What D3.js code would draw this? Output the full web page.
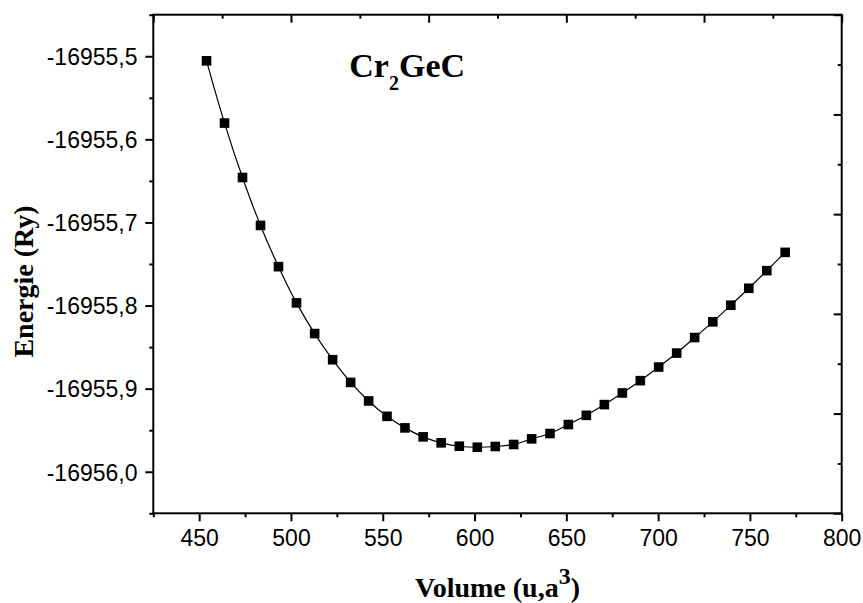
<!DOCTYPE html>
<html>
<head>
<meta charset="utf-8">
<script src="https://cdn.jsdelivr.net/npm/d3@7"></script>
<style>
  html, body { margin: 0; padding: 0; background: #fff; }
  svg { display: block; }
  .tick text { font-family: "Liberation Sans", Arial, sans-serif; font-size: 23px; fill: #000; }
  .ttl { font-family: "Liberation Serif", "Times New Roman", serif; font-weight: bold; fill: #000; }
</style>
</head>
<body>
<svg id="chart" width="863" height="603"></svg>
<script>
// ---- data ----
const volume = [454.0, 463.8, 473.6, 483.4, 493.2, 503.0, 512.9, 522.7, 532.5, 542.3,
                552.3, 562.1, 572.0, 581.8, 591.7, 601.5, 611.3, 621.3, 631.1, 641.1,
                651.1, 660.9, 670.7, 680.5, 690.3, 700.3, 710.1, 719.9, 729.8, 739.6,
                749.4, 759.2, 769.2];
const energy = [-16955.5055, -16955.5804, -16955.6459, -16955.7036, -16955.7532, -16955.7968,
                -16955.8337, -16955.8652, -16955.8925, -16955.9148, -16955.9333, -16955.9472,
                -16955.9580, -16955.9652, -16955.9693, -16955.9705, -16955.9696, -16955.9672,
                -16955.9604, -16955.9540, -16955.9432, -16955.9321, -16955.9192, -16955.9052,
                -16955.8904, -16955.8740, -16955.8572, -16955.8385, -16955.8196, -16955.7996,
                -16955.7792, -16955.7580, -16955.7360];

const xDomain = [425, 800];
const yDomain = [-16956.05, -16955.45];

const xTicks = [450, 500, 550, 600, 650, 700, 750, 800];
const xTickLabels = ["450", "500", "550", "600", "650", "700", "750", "800"];
const xMinorTicks = [425, 475, 525, 575, 625, 675, 725, 775];

const yTicks = [-16955.5, -16955.6, -16955.7, -16955.8, -16955.9, -16956.0];
const yTickLabels = ["-16955,5", "-16955,6", "-16955,7", "-16955,8", "-16955,9", "-16956,0"];
const yMinorTicks = [-16955.45, -16955.55, -16955.65, -16955.75, -16955.85, -16955.95, -16956.05];

const topTicks = [425, 500, 575, 650, 725, 800];
const topMinorTicks = [462.5, 537.5, 612.5, 687.5, 762.5];
const rightTicks = [-16955.45, -16955.57, -16955.69, -16955.81, -16955.93, -16956.05];
const rightMinorTicks = [-16955.51, -16955.63, -16955.75, -16955.87, -16955.99];

const chartTitle = "Cr";
const chartTitleSub = "2";
const chartTitleRest = "GeC";
const xTitle = "Volume (u,a";
const xTitleSup = "3";
const xTitleEnd = ")";
const yTitle = "Energie (Ry)";

// ---- layout ----
const L = 153.3, R = 841.7, T = 14.7, B = 513.3;
const svg = d3.select("#chart");

const x = d3.scaleLinear().domain(xDomain).range([L, R]);
const y = d3.scaleLinear().domain(yDomain).range([B, T]);

function styleAxis(g) {
  g.select(".domain").remove();
  g.selectAll(".tick line").attr("stroke", "#000").attr("stroke-width", 2);
}

// bottom axis
svg.append("g").attr("transform", `translate(0,${B})`)
  .call(d3.axisBottom(x).tickValues(xTicks).tickSize(8).tickFormat((d, i) => xTickLabels[i]))
  .call(styleAxis)
  .call(g => g.selectAll(".tick text").attr("y", 32.7).attr("dy", 0));
svg.append("g").attr("transform", `translate(0,${B})`)
  .call(d3.axisBottom(x).tickValues(xMinorTicks).tickSize(4).tickFormat(""))
  .call(styleAxis);

// left axis
svg.append("g").attr("transform", `translate(${L},0)`)
  .call(d3.axisLeft(y).tickValues(yTicks).tickSize(8).tickFormat((d, i) => yTickLabels[i]))
  .call(styleAxis)
  .call(g => g.selectAll(".tick text").attr("x", -15.8).attr("dy", "0.36em"));
svg.append("g").attr("transform", `translate(${L},0)`)
  .call(d3.axisLeft(y).tickValues(yMinorTicks).tickSize(4).tickFormat(""))
  .call(styleAxis);

// top axis (inward ticks)
svg.append("g").attr("transform", `translate(0,${T})`)
  .call(d3.axisTop(x).tickValues(topTicks).tickSize(-8).tickFormat(""))
  .call(styleAxis);
svg.append("g").attr("transform", `translate(0,${T})`)
  .call(d3.axisTop(x).tickValues(topMinorTicks).tickSize(-4).tickFormat(""))
  .call(styleAxis);

// right axis (inward ticks)
svg.append("g").attr("transform", `translate(${R},0)`)
  .call(d3.axisRight(y).tickValues(rightTicks).tickSize(-8).tickFormat(""))
  .call(styleAxis);
svg.append("g").attr("transform", `translate(${R},0)`)
  .call(d3.axisRight(y).tickValues(rightMinorTicks).tickSize(-4).tickFormat(""))
  .call(styleAxis);

// frame
svg.append("rect")
  .attr("x", L).attr("y", T).attr("width", R - L).attr("height", B - T)
  .attr("fill", "none").attr("stroke", "#000").attr("stroke-width", 2);

// data
const pts = volume.map((v, i) => [v, energy[i]]);
const line = d3.line().x(d => x(d[0])).y(d => y(d[1])).curve(d3.curveCatmullRom.alpha(0.5));
svg.append("path").datum(pts)
  .attr("d", line).attr("fill", "none").attr("stroke", "#000").attr("stroke-width", 1.2);

const ms = 9.6;
svg.append("g").selectAll("rect").data(pts).join("rect")
  .attr("x", d => x(d[0]) - ms / 2).attr("y", d => y(d[1]) - ms / 2)
  .attr("width", ms).attr("height", ms).attr("fill", "#000");

// chart title
const t = svg.append("text").attr("class", "ttl").attr("x", 349.3).attr("y", 77.3).attr("font-size", 34);
t.append("tspan").text(chartTitle);
t.append("tspan").attr("font-size", 20).attr("dy", 13).text(chartTitleSub);
t.append("tspan").attr("dy", -13).text(chartTitleRest);

// x title
const xt = svg.append("text").attr("class", "ttl").attr("x", (L + R) / 2).attr("y", 597)
  .attr("text-anchor", "middle").attr("font-size", 28);
xt.append("tspan").text(xTitle);
xt.append("tspan").attr("font-size", 24).attr("dy", -13).text(xTitleSup);
xt.append("tspan").attr("dy", 13).text(xTitleEnd);

// y title
svg.append("text").attr("class", "ttl")
  .attr("transform", `translate(33.3,281.5) rotate(-90)`)
  .attr("text-anchor", "middle").attr("font-size", 28).text(yTitle);
</script>
</body>
</html>
